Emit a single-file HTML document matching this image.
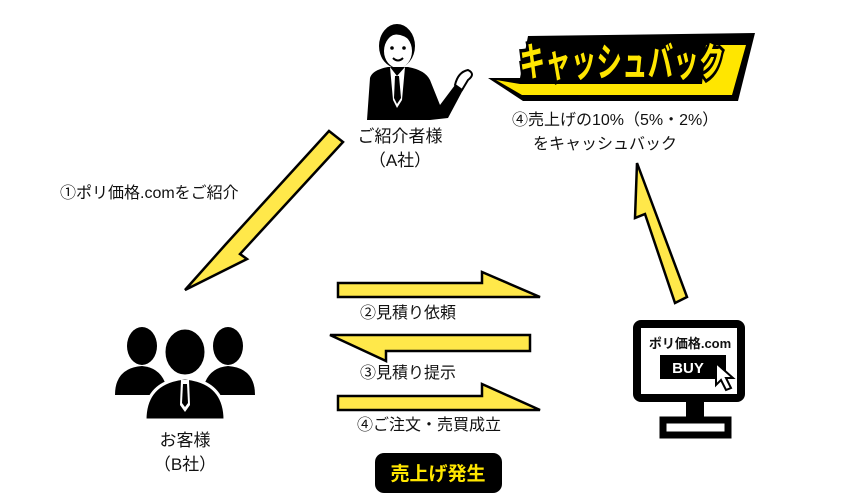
<!DOCTYPE html>
<html><head><meta charset="utf-8"><style>
html,body{margin:0;padding:0;background:#fff;}
svg{display:block;}
text{font-family:"Liberation Sans","Noto Sans CJK JP",sans-serif;fill:#111;}
</style></head><body>
<svg width="850" height="500" viewBox="0 0 850 500" xmlns="http://www.w3.org/2000/svg">
<!-- Person A -->
<g>
<ellipse cx="397" cy="46" rx="18" ry="22" fill="#000"/>
<ellipse cx="398" cy="51" rx="14" ry="17" fill="#fff"/>
<path d="M384 40 Q397 28 412 42 L412 34 Q397 22 383 34Z" fill="#000"/>
<circle cx="392" cy="48" r="1.8" fill="#000"/><circle cx="404" cy="48" r="1.8" fill="#000"/>
<path d="M393 58 Q398 63 403 58" stroke="#000" stroke-width="2" fill="none"/>
<path d="M370 78 Q372 70 388 67 L408 67 Q425 70 430 80 L440 105 L455 85 L464 88 L448 118 L430 120 L428 120 L367 120 Z" fill="#000"/>
<path d="M390 67 L397 76 L405 67 L402 100 L397 108 L393 100Z" fill="#fff"/>
<path d="M395 76 L399 76 L401 98 L397 104 L394 98Z" fill="#000"/>
<path d="M455 85 Q458 72 468 70 Q476 74 468 80 L462 90Z" fill="#fff" stroke="#000" stroke-width="2"/>
</g>
<text x="400" y="142" font-size="17" text-anchor="middle">ご紹介者様</text>
<text x="400" y="166" font-size="17" text-anchor="middle">（A社）</text>

<!-- Cashback logo -->
<polygon points="488,78 523,101 738,101 755,33 528,36 520,78" fill="#000"/>
<polygon points="496,80 522,95 732,95 746,45 706,45 702,84 520,84" fill="#ffe600"/>
<text x="622" y="76" font-size="40" font-weight="bold" text-anchor="middle" stroke="#000" stroke-width="7" paint-order="stroke" style="fill:#ffe600" textLength="205" lengthAdjust="spacingAndGlyphs">キャッシュバック</text>

<text x="512" y="125" font-size="16">④売上げの10%（5%・2%）</text>
<text x="533" y="149" font-size="16">をキャッシュバック</text>

<!-- Left lightning -->
<polygon points="329,131 343,142 240,254 247,259 185,290 226,244" fill="#ffe84a" stroke="#000" stroke-width="2.5"/>
<text x="60" y="198" font-size="16">①ポリ価格.comをご紹介</text>

<!-- Right arrow -->
<polygon points="637,163 687,297 675,303 645,214 635,218" fill="#ffe84a" stroke="#000" stroke-width="2.5"/>

<!-- Middle arrows -->
<polygon points="338,283 482,283 482,272 540,297 338,297" fill="#ffe84a" stroke="#000" stroke-width="2.5"/>
<text x="360" y="318" font-size="16">②見積り依頼</text>
<polygon points="330,335 530,335 530,351 386,351 386,361" fill="#ffe84a" stroke="#000" stroke-width="2.5"/>
<text x="360" y="378" font-size="16">③見積り提示</text>
<polygon points="338,396 482,396 482,384 540,410 338,410" fill="#ffe84a" stroke="#000" stroke-width="2.5"/>
<text x="357" y="430" font-size="16">④ご注文・売買成立</text>

<rect x="375" y="453" width="127" height="40" rx="9" fill="#000"/>
<text x="438" y="480" font-size="19" font-weight="bold" text-anchor="middle" style="fill:#ffe600">売上げ発生</text>

<!-- Customers -->
<g fill="#000">
<ellipse cx="142" cy="346" rx="15" ry="19"/>
<ellipse cx="228" cy="346" rx="15" ry="19"/>
<path d="M115 395 Q115 368 142 366 Q165 368 168 395Z"/>
<path d="M202 395 Q205 368 228 366 Q255 368 255 395Z"/>
<ellipse cx="185" cy="352" rx="21" ry="24" stroke="#fff" stroke-width="3"/>
<path d="M145 420 Q145 382 185 378 Q225 382 225 420Z" stroke="#fff" stroke-width="3"/>
</g>
<path d="M181 380 L189 380 L190 405 L185 412 L180 405Z" fill="#fff"/>
<path d="M183 384 L187 384 L188 403 L185 407 L182 403Z" fill="#000"/>
<text x="185" y="446" font-size="17" text-anchor="middle">お客様</text>
<text x="185" y="470" font-size="17" text-anchor="middle">（B社）</text>

<!-- Monitor -->
<rect x="637" y="324" width="104" height="74" rx="4" fill="#fff" stroke="#000" stroke-width="8"/>
<text x="690" y="348" font-size="13" font-weight="bold" text-anchor="middle">ポリ価格.com</text>
<rect x="660" y="355" width="66" height="24" fill="#000"/>
<text x="688" y="373" font-size="15" font-weight="bold" text-anchor="middle" style="fill:#fff">BUY</text>
<polygon points="716,363 716,385 721,380 726,390 731,388 726,378 733,378" fill="#fff" stroke="#000" stroke-width="2"/>
<rect x="686" y="400" width="18" height="20" fill="#000"/>
<rect x="663" y="420" width="65" height="15" fill="#fff" stroke="#000" stroke-width="7"/>
</svg>
</body></html>
